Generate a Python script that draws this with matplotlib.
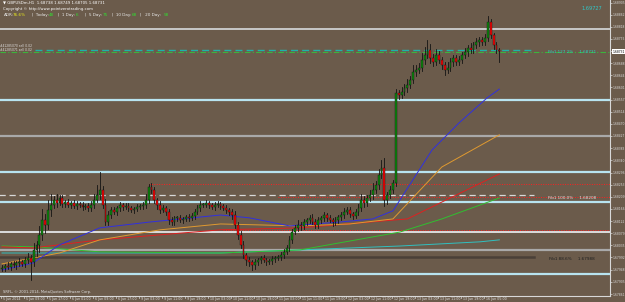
import matplotlib
matplotlib.use("Agg")
import matplotlib.pyplot as plt
from matplotlib.patches import Rectangle
from datetime import datetime, timedelta

# prices are kept in pips above BASE
BASE = 1.6780
first_open = 15.2

close_pips = [
    15.5, 16.2, 15.8, 16.9, 16.5, 17.2, 17.6, 16.9, 18.3, 19.0,
    17.6, 21.9, 23.7,
    27.3, 32.6, 30.9, 36.2, 38.0,
    39.8, 38.7, 40.5, 38.4, 39.1, 38.0, 38.7, 37.7, 38.4, 38.0, 37.3, 37.7, 36.9, 38.0, 39.8, 41.6,
    43.4,
    38.0, 31.9,
    34.4, 36.2, 35.5, 36.9, 38.0, 37.3, 37.7, 36.9, 36.2, 36.6, 37.3, 37.7, 38.0, 39.8,
    44.5,
    43.4, 39.8, 38.0, 36.2, 36.9, 35.5,
    32.6, 31.9, 33.4,
    33.4, 32.6, 33.0, 33.7, 33.4, 34.1, 35.5, 36.9, 38.0, 38.0,
    38.7, 38.0, 37.3, 38.0, 38.4, 37.7, 36.9, 36.2, 35.5, 34.4,
    30.9, 27.3, 23.7, 20.1, 18.3, 17.6,
    16.5, 17.6, 18.3, 19.0, 18.3, 17.6, 17.9, 18.7, 19.0, 19.4, 20.1, 21.2, 22.6,
    25.5, 28.3, 29.8, 30.9, 30.5,
    31.9, 32.6, 33.4, 31.9, 30.9, 32.6, 33.4, 34.4, 33.4, 32.6, 31.9, 32.6, 33.7, 34.4, 35.5, 36.2, 34.8, 34.1, 35.5, 36.9,
    39.8, 38.7, 40.5, 41.6, 43.4, 45.2, 48.8, 51.3,
    39.8,
    41.6, 43.4, 45.9,
    78.1,
    77.4, 78.5, 79.9, 81.0,
    82.8, 85.6, 86.3, 87.1,
    89.9, 91.7, 93.5, 90.6, 89.2, 91.7,
    89.9, 88.1, 86.3, 87.1, 89.2, 90.6, 89.2, 89.9,
    91.7, 92.8, 94.2, 93.5, 95.3, 96.4, 97.1,
    96.4, 97.8, 103.5,
    98.9, 95.3, 93.5, 93.1,
]

wick_up = [
    1.0, 0.8, 1.2, 0.6, 1.0, 0.8, 1.5, 0.7, 1.2, 1.8,
    1.0, 2.5, 1.5,
    3.0, 4.0, 2.0, 3.5, 4.0,
    1.5, 2.0, 1.0, 1.2, 0.8, 1.0, 0.7, 1.0, 0.9, 0.6, 1.0, 0.8, 1.0, 1.5, 2.0, 3.5,
    6.4,
    1.5, 2.0,
    1.5, 1.0, 1.2, 0.8, 1.0, 0.7, 0.9, 1.0, 0.8, 0.6, 1.0, 0.8, 1.2, 2.0,
    1.0,
    1.2, 1.0, 0.8, 1.5, 1.0, 0.8,
    1.0, 1.2, 0.8,
    0.7, 1.0, 0.8, 0.6, 1.0, 0.9, 1.2, 1.0, 1.5, 0.8,
    1.0, 0.8, 0.7, 1.2, 0.9, 0.6, 0.8, 1.0, 0.7, 0.9,
    1.5, 1.0, 1.2, 1.5, 0.8, 1.0,
    0.8, 1.0, 0.7, 0.9, 1.2, 0.8, 0.6, 1.0, 0.8, 0.7, 1.0, 0.9, 1.2,
    1.5, 1.2, 1.0, 1.8, 1.0,
    1.2, 0.8, 1.0, 1.5, 0.9, 1.2, 0.7, 1.0, 0.8, 1.1, 0.9, 1.2, 0.8, 1.0, 1.3, 0.9, 1.0, 0.8, 1.2, 1.5,
    2.0, 1.5, 1.2, 1.8, 2.5, 1.5, 2.0, 2.8,
    3.4,
    1.0, 1.5, 1.2,
    1.5,
    1.2, 1.8, 1.5, 2.0,
    1.5, 2.5, 2.0, 1.8,
    2.5, 3.0, 3.6, 2.0, 1.5, 2.2,
    1.5, 1.0, 1.2, 2.0, 1.5, 1.2, 1.0, 1.5,
    1.2, 1.5, 1.0, 1.8, 1.2, 1.5, 1.0,
    1.2, 1.5, 2.2,
    1.0, 0.8, 1.2, 0.6,
]

wick_dn = [
    1.0, 1.2, 0.8, 1.0, 0.7, 1.5, 1.0, 0.8, 1.2, 1.0,
    6.4, 1.5, 2.0,
    2.5, 2.0, 3.0, 1.5, 2.0,
    1.0, 1.5, 0.8, 1.2, 1.0, 0.7, 1.0, 0.9, 1.2, 0.8, 1.0, 0.7, 1.0, 1.2, 1.0, 0.8,
    1.5,
    1.0, 1.0,
    1.2, 1.0, 0.8, 1.0, 0.9, 1.2, 0.7, 1.0, 0.8, 1.0, 0.9, 0.8, 1.0, 1.2,
    1.0,
    1.0, 1.2, 1.5, 1.0, 0.8, 1.2,
    1.5, 1.0, 1.2,
    1.0, 0.8, 1.2, 0.9, 1.0, 0.8, 1.0, 0.7, 1.0, 0.9,
    0.8, 1.0, 0.9, 1.2, 0.8, 1.0, 0.7, 1.0, 1.2, 1.5,
    1.0, 1.5, 1.2, 1.0, 1.8, 1.5,
    1.9, 1.5, 1.0, 1.2, 0.8, 1.0, 0.9, 1.2, 1.0, 0.8, 1.0, 1.2, 0.9,
    1.0, 1.2, 0.8, 1.0, 1.5,
    1.0, 0.9, 1.2, 0.8, 1.0, 1.1, 0.9, 1.2, 1.0, 0.8, 1.3, 1.0, 0.9, 1.2, 1.0, 0.8, 1.1, 1.0, 0.9, 1.2,
    1.0, 1.5, 1.2, 1.0, 1.3, 1.0, 1.5, 1.2,
    2.0,
    1.5, 1.2, 1.0,
    1.0,
    1.5, 1.2, 1.0, 1.5,
    1.2, 1.0, 1.5, 1.2,
    1.0, 1.5, 1.2, 1.8, 1.5, 1.0,
    1.2, 1.5, 1.8, 1.0, 1.2, 1.5, 1.0, 1.2,
    1.0, 1.2, 1.5, 1.0, 1.2, 1.0, 1.5,
    1.0, 1.2, 1.0,
    1.2, 1.5, 1.0, 3.9,
]

# moving averages: (bar index, pips)
ma_blue = [(0, 14.7), (10.8, 17.2), (20, 23.7), (34, 29.8), (51.5, 31.9), (76, 34.4), (86, 33.4),
           (100, 30.5), (117.6, 31.9), (129, 33.0), (136, 35.9), (149.6, 57.7), (159, 67.4),
           (168.7, 76.3), (173, 79.5)]
ma_orange = [(0, 16.9), (20, 20.8), (34, 25.5), (55, 29.1), (76, 31.2), (103.7, 30.5), (121, 31.2),
             (136, 33.0), (153, 51.6), (173, 63.1)]
ma_red = [(0, 23.0), (10.8, 22.6), (34, 25.5), (76, 29.1), (103.7, 29.8), (141, 33.0), (173, 49.1)]
ma_green = [(0, 23.3), (11, 23.0), (34, 21.2), (76, 20.8), (103.7, 21.9), (138.4, 28.3), (153, 33.0),
            (173, 40.5)]
ma_teal = [(0, 20.8), (76, 20.8), (103.7, 21.9), (138.4, 23.3), (166.3, 24.8), (173, 25.5)]

# horizontal levels (pips)
levels_blue = [75.6, 49.8, 39.1, 13.3]
levels_grey = [62.7, 21.9]
level_top = 101.0
level_light = 28.3
red_dotted = [(51, 45.5), (96, 40.7), (77, 29.1)]
fib127 = 93.1
fib100_dash = 41.6
fib886 = 18.8

price_ticks = [1.68905, 1.68862, 1.68818, 1.68775, 1.68731, 1.68688, 1.68644, 1.68601, 1.68557,
               1.68514, 1.68470, 1.68427, 1.68383, 1.68340, 1.68296, 1.68253, 1.68209, 1.68166,
               1.68122, 1.68079, 1.68035, 1.67992, 1.67948, 1.67905, 1.67861]
current_price = 1.68731

BG = "#6b5b4b"
W, H = 625, 302


def p(v):
    return BASE + v / 10000.0


fig = plt.figure(figsize=(W / 100, H / 100), dpi=100, facecolor=BG)
ax = fig.add_axes([0, 6 / H, 610 / W, 296 / H], facecolor=BG)
ax.set_xlim(-0.7, 211.5)
ax.set_ylim(1.67854, 1.68914)

# bar times: hourly, Friday closes after 21:00, Monday opens 00:00
times = []
t = datetime(2014, 6, 5, 1)
while len(times) < len(close_pips):
    if t.weekday() < 4 or (t.weekday() == 4 and t.hour <= 21):
        times.append(t)
    t += timedelta(hours=1)

# levels
for lv in levels_blue:
    ax.axhline(p(lv), color="#b8e4f0", lw=1.6, zorder=1)
for lv in levels_grey:
    ax.axhline(p(lv), color="#a9a9a9", lw=1.6, zorder=1)
ax.axhline(p(level_top), color="#c8c8c8", lw=1.4, zorder=1)
ax.axhline(p(level_light), color="#dcdcdc", lw=1.4, zorder=1)
for x0, lv in red_dotted:
    ax.plot([x0, 211.5], [p(lv), p(lv)], color="#ff2020", lw=0.7, ls=(0, (1, 1.5)), zorder=2)
ax.plot([-1, 185], [p(fib100_dash), p(fib100_dash)], color="#d8d8d8", lw=0.9, ls=(0, (5, 3)), zorder=2)
ax.plot([-1, 185], [p(fib886 + 0.6), p(fib886 + 0.6)], color="#4a4038", lw=1.8, zorder=2)
ax.axhline(p(fib127 - 0.3), color="#3cb43c", lw=0.8, ls=(0, (5, 2, 1, 2)), zorder=2)
ax.plot([11.5, 185], [p(fib127 + 0.4), p(fib127 + 0.4)], color="#20b2aa", lw=1.0, ls=(0, (5, 3)), zorder=2)

# moving averages
for pts, col in [(ma_teal, "#30c0c0"), (ma_green, "#30c030"), (ma_red, "#e02020"),
                 (ma_orange, "#e09a30"), (ma_blue, "#3030e0")]:
    ax.plot([a for a, b in pts], [p(b) for a, b in pts], color=col, lw=0.7, zorder=3)

# candles
o = first_open
for i, c in enumerate(close_pips):
    hi = max(o, c) + wick_up[i]
    lo = min(o, c) - wick_dn[i]
    ax.plot([i, i], [p(lo), p(hi)], color="#141414", lw=0.6, zorder=4)
    col = "#0a8a0a" if c >= o else "#ff0000"
    hgt = abs(c - o) / 10000.0
    if hgt < 0.00002:
        hgt = 0.00002
    ax.add_patch(Rectangle((i - 0.33, p(min(o, c))), 0.66, hgt, facecolor=col,
                           edgecolor="#141414", lw=0.3, zorder=5))
    o = c

# axes styling
for s in ["top", "left"]:
    ax.spines[s].set_visible(False)
for s in ["right", "bottom"]:
    ax.spines[s].set_color("#d8d8d8")
    ax.spines[s].set_linewidth(0.8)
ax.yaxis.tick_right()
ax.set_yticks(price_ticks)
labels = ax.set_yticklabels(["%.5f" % v for v in price_ticks])
ax.tick_params(axis="y", colors="#d8d8d8", labelsize=2.2, length=1.2, width=0.5, pad=0.5)
for lab, v in zip(labels, price_ticks):
    if v == current_price:
        lab.set_color("black")
        lab.set_bbox(dict(boxstyle="square,pad=0.15", facecolor="white", edgecolor="none"))
ax.set_xticks([])

# time labels every 8 bars
for k in range(0, len(times), 8):
    tt = times[k]
    lab = "5 Jun 2014" if k == 0 else "%d %s %02d:00" % (tt.day, tt.strftime("%b"), tt.hour)
    ax.plot([k - 0.5, k - 0.5], [1.67854, 1.67854 - 0.00008], color="#d8d8d8", lw=0.5, clip_on=False)
    ax.text(k + 0.3, 1.67854 - 0.00005, lab, fontsize=2.3, color="#e0e0e0", va="top", ha="left",
            clip_on=False)

# header texts
def ftext(x, y, s, **kw):
    fig.text(x / W, 1 - y / H, s, va="center", ha="left", **kw)

ftext(3, 3, "\u25bc GBPUSDm,H1  1.68738 1.68749 1.68705 1.68731", fontsize=2.8, color="white")
ftext(3, 9, "Copyright \u00a9 http://www.pointzerotrading.com", fontsize=2.8, color="white")
adr = [(4, "ADR:", "#e8e8e8"), (13, "76.6%", "#e8e820"), (32, "|  Today:", "#e8e8e8"), (49, "48", "#30e030"),
       (58, "|  1 Day:", "#e8e8e8"), (76, "6", "#30e030"), (85, "|  5 Day:", "#e8e8e8"), (103, "75", "#30e030"),
       (112, "|  10 Day:", "#e8e8e8"), (132, "68", "#30e030"), (140, "|   20 Day:", "#e8e8e8"), (164, "58", "#30e030")]
for x, s, col in adr:
    ftext(x, 15, s, fontsize=3.0, color=col)
ftext(0, 46, "#41285070 sell 0.02", fontsize=2.2, color="#e0e0e0")
ftext(0, 50, "#41285071 sell 0.02", fontsize=2.2, color="#e0e0e0")
ftext(582, 8, "1.69727", fontsize=3.6, color="#30c8c8")
ftext(548, 52, "Fib1 127.2%     1.68731", fontsize=3.0, color="#30c8c8")
ftext(548, 198, "Fib1 100.0%     1.68208", fontsize=3.0, color="#e0e0e0")
ftext(549, 259, "Fib1 88.6%     1.67988", fontsize=3.0, color="#202020")
ftext(3, 292, "SRFL, \u00a9 2001-2014, MetaQuotes Software Corp.", fontsize=2.6, color="#e0e0e0")

fig.savefig("out.png", dpi=100, facecolor=BG)
